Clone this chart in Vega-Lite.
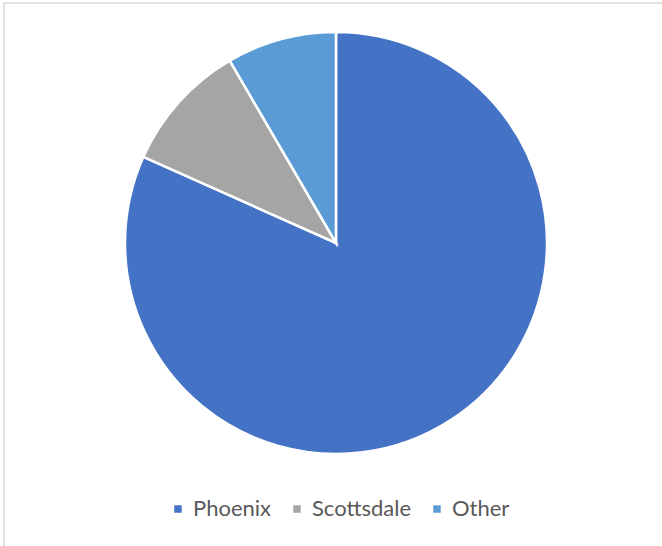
{
  "$schema": "https://vega.github.io/schema/vega-lite/v6.json",
  "width": 664,
  "height": 600,
  "padding": {"left": 4, "top": 3, "right": 0, "bottom": 0},
  "autosize": {"type": "none"},
  "background": "white",
  "view": {"stroke": "#D9D9D9", "strokeWidth": 1.5},
  "data": {
    "values": [
      {"city": "Phoenix", "share": 81.7, "rank": 1},
      {"city": "Scottsdale", "share": 9.9, "rank": 2},
      {"city": "Other", "share": 8.4, "rank": 3}
    ]
  },
  "mark": {"type": "arc", "outerRadius": 211, "y": 240, "stroke": "white", "strokeWidth": 2.5},
  "encoding": {
    "theta": {"field": "share", "type": "quantitative", "stack": true},
    "order": {"field": "rank", "type": "quantitative"},
    "color": {
      "field": "city",
      "type": "nominal",
      "scale": {"domain": ["Phoenix", "Scottsdale", "Other"], "range": ["#4472C4", "#A5A5A5", "#5B9BD5"]},
      "legend": {
        "title": null,
        "orient": "none",
        "direction": "horizontal",
        "legendX": 163,
        "legendY": 495,
        "symbolType": "square",
        "symbolSize": 56,
        "symbolStrokeWidth": 0,
        "labelFont": "Lato",
        "labelFontSize": 22,
        "labelColor": "#595959",
        "labelOffset": 4,
        "columnPadding": 14
      }
    }
  }
}
